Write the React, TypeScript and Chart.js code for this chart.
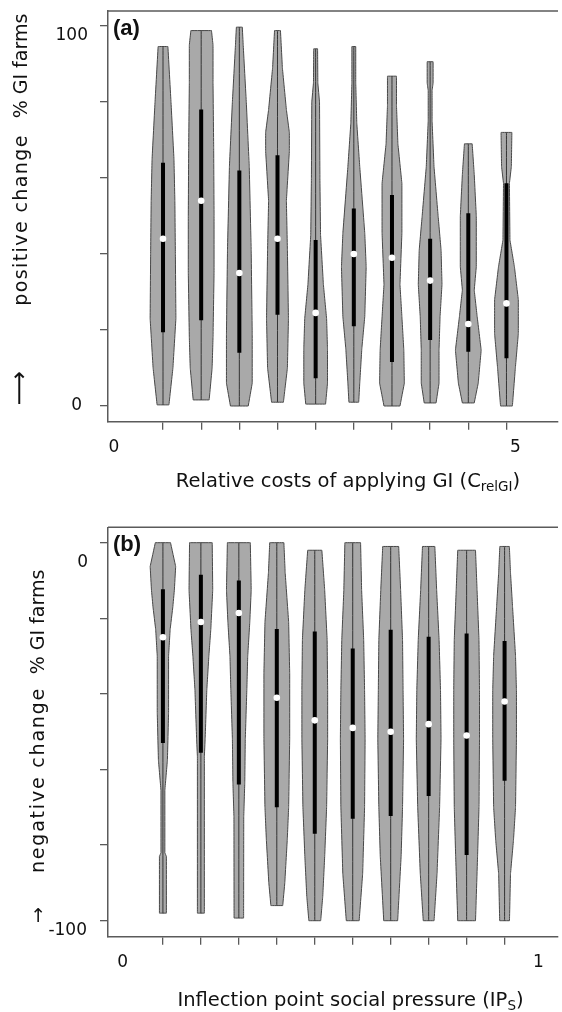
import React, { useEffect, useRef } from 'react';
import { Chart, registerables } from 'chart.js';

Chart.register(...registerables);

const FONT = '"DejaVu Sans", Verdana, sans-serif';
const BOLD_FONT = '"Liberation Sans", Arial, sans-serif';
const AXIS_COLOR = '#5a5a5a';
const TEXT_COLOR = '#111111';
const VIOLIN_FILL = '#a9a9a9';
const VIOLIN_EDGE = '#474747';

// ---------- Panel (a): relative costs of applying GI ----------
const aCategories = [0.5, 1, 1.5, 2, 2.5, 3, 3.5, 4, 4.5, 5];
const aMedians = [44, 54, 35, 44, 24.5, 40, 39, 33, 21.6, 27];
const aQ1 = [19.4, 22.6, 14, 24, 7.3, 21, 11.6, 17.4, 14.3, 12.6];
const aQ3 = [64, 78, 62, 66, 43.7, 52, 55.5, 44, 50.7, 58.6];
// [value, relative density] from bottom to top of each violin
const aDensity: number[][][] = [
  [[0.3, 0.46], [10, 0.77], [23, 1.0], [40, 0.96], [54, 0.92], [65, 0.85], [80, 0.62], [94.6, 0.38]],
  [[1.6, 0.62], [10, 0.85], [18, 0.92], [35, 1.0], [50, 1.0], [68, 0.97], [85, 0.92], [95, 0.92], [98.8, 0.8]],
  [[0, 0.69], [6, 1.0], [19, 1.0], [41, 0.92], [63, 0.77], [80, 0.54], [95, 0.3], [99.7, 0.23]],
  [[1, 0.46], [10, 0.77], [23, 0.85], [41, 0.77], [54, 0.69], [67, 0.92], [72, 0.92], [78, 0.69], [89, 0.38], [98.8, 0.23]],
  [[0.5, 0.77], [6, 0.92], [15, 0.92], [23, 0.85], [32, 0.6], [45, 0.38], [60, 0.33], [80, 0.3], [85, 0.17], [94, 0.15]],
  [[1, 0.38], [6, 0.46], [15, 0.62], [23.5, 0.85], [36.6, 0.96], [45.5, 0.85], [63, 0.46], [74.5, 0.23], [85, 0.15], [94.6, 0.15]],
  [[0, 0.62], [6, 0.96], [14.7, 0.92], [23.5, 0.77], [32, 0.62], [45.5, 0.77], [58.6, 0.77], [69, 0.46], [79, 0.35], [86.8, 0.35]],
  [[0.8, 0.46], [6, 0.69], [14.7, 0.69], [23.5, 0.77], [32, 0.92], [41, 0.85], [50, 0.62], [63, 0.3], [75, 0.15], [83, 0.15], [85, 0.23], [90.6, 0.23]],
  [[0.8, 0.46], [6, 0.77], [14.7, 1.0], [23.5, 0.69], [30.5, 0.46], [36.6, 0.62], [50, 0.62], [61, 0.46], [69, 0.3]],
  [[0, 0.46], [10, 0.69], [19, 0.92], [28, 0.92], [36.6, 0.62], [43.7, 0.27], [58.6, 0.23], [63, 0.38], [72, 0.42]],
];
const aYTicks = [0, 20, 40, 60, 80, 100];
const aYLabelValues = [0, 100];
const aYLabels = ['0', '100'];
const aXLabelValues = [0, 5];
const aXLabels = ['0', '5'];

// ---------- Panel (b): inflection point social pressure ----------
const bCategories = [0.1, 0.2, 0.3, 0.4, 0.5, 0.6, 0.7, 0.8, 0.9, 1.0];
const bMedians = [-25, -21, -18.6, -41, -47, -49, -50, -48, -51, -42];
const bQ1 = [-53, -55.6, -64, -70, -77, -73, -72.3, -67, -82.6, -63];
const bQ3 = [-12.3, -8.5, -10, -22.8, -23.5, -28, -23, -24.9, -24, -26];
const bDensity: number[][][] = [
  [[-98, 0.27], [-83, 0.27], [-82, 0.15], [-65.5, 0.15], [-57.5, 0.35], [-45, 0.44], [-30, 0.44], [-23, 0.56], [-17, 0.77], [-12.5, 0.89], [-6.3, 0.99], [0, 0.59]],
  [[-98, 0.27], [-56.6, 0.27], [-52, 0.33], [-39, 0.46], [-30, 0.62], [-23, 0.77], [-12.5, 0.92], [0, 0.88]],
  [[-99.3, 0.37], [-72.5, 0.38], [-63.6, 0.46], [-52, 0.5], [-39, 0.62], [-30, 0.69], [-21, 0.85], [-12.5, 0.96], [0, 0.89]],
  [[-96, 0.46], [-90, 0.62], [-78.7, 0.81], [-70, 0.92], [-52, 1.0], [-34.5, 1.0], [-21, 0.92], [-8, 0.65], [0, 0.55]],
  [[-100, 0.46], [-93.6, 0.62], [-83, 0.77], [-70, 0.92], [-52, 1.0], [-39, 1.0], [-25.7, 0.96], [-12.5, 0.77], [-2, 0.55]],
  [[-100, 0.5], [-87.6, 0.77], [-70, 0.92], [-52, 0.96], [-39, 0.92], [-25.7, 0.85], [-12.5, 0.69], [0, 0.61]],
  [[-100, 0.54], [-83, 0.81], [-70, 0.92], [-52, 1.0], [-39, 0.96], [-25.7, 0.92], [-12.5, 0.77], [-1, 0.62]],
  [[-100, 0.42], [-87.6, 0.65], [-70, 0.85], [-52, 0.96], [-39, 0.92], [-25.7, 0.81], [-12.5, 0.62], [-1, 0.48]],
  [[-100, 0.69], [-83, 0.85], [-70, 0.96], [-52, 1.0], [-39, 1.0], [-25.7, 0.96], [-12.5, 0.81], [-2, 0.69]],
  [[-100, 0.38], [-87.6, 0.46], [-78.7, 0.69], [-70, 0.85], [-52, 0.92], [-39, 0.92], [-30, 0.85], [-17, 0.62], [-8, 0.46], [-1, 0.37]],
];
const bYTicks = [0, -20, -40, -60, -80, -100];
const bYLabelValues = [0, -100];
const bYLabels = ['0', '-100'];
const bXLabelValues = [0, 1];
const bXLabels = ['0', '1'];

type Panel = {
  height: number;
  padTop: number;
  axisH: number;
  xMin: number; xMax: number; yMin: number; yMax: number;
  categories: number[];
  density: number[][][];
  medians: number[]; q1: number[]; q3: number[];
  halfWidth: number;
  yTicks: number[];
  yLabelValues: number[]; yLabels: string[]; yLabelRight: number[]; yLabelDy: number[];
  xLabelValues: number[]; xLabels: string[]; xLabelDx: number[];
  panelLabel: string;
  xTitle: string; xTitleSub: string; xTitleCenter: number; xTitleBaseline: number;
  yTitleBaseline: number;
  yTitleParts: { text: string; center: number; size: number; spacing: number }[];
};

const panelA: Panel = {
  height: 510, padTop: 11, axisH: 88.3,
  xMin: -0.2208, xMax: 5.6753, yMin: -4.13, yMax: 103.95,
  categories: aCategories, density: aDensity, medians: aMedians, q1: aQ1, q3: aQ3,
  halfWidth: 0.1688,
  yTicks: aYTicks,
  yLabelValues: aYLabelValues, yLabels: aYLabels, yLabelRight: [82, 88], yLabelDy: [0, 10],
  xLabelValues: aXLabelValues, xLabels: aXLabels, xLabelDx: [-11, 9],
  panelLabel: '(a)',
  xTitle: 'Relative costs of applying GI (C', xTitleSub: 'relGI', xTitleCenter: 348, xTitleBaseline: 487,
  yTitleBaseline: 27,
  yTitleParts: [
    { text: '% GI farms', center: 66, size: 19, spacing: 0 },
    { text: 'positive change', center: 220, size: 19, spacing: 1.4 },
    { text: '\u27F6', center: 388, size: 24, spacing: 0 },
  ],
};

const panelB: Panel = {
  height: 502, padTop: 17.3, axisH: 75.3,
  xMin: -0.04465, xMax: 1.1407, yMin: -104.23, yMax: 4.07,
  categories: bCategories, density: bDensity, medians: bMedians, q1: bQ1, q3: bQ3,
  halfWidth: 0.03394,
  yTicks: bYTicks,
  yLabelValues: bYLabelValues, yLabels: bYLabels, yLabelRight: [88, 87], yLabelDy: [20, 10],
  xLabelValues: bXLabelValues, xLabels: bXLabels, xLabelDx: [-2.3, 33.7],
  panelLabel: '(b)',
  xTitle: 'Inflection point social pressure (IP', xTitleSub: 'S', xTitleCenter: 350.5, xTitleBaseline: 496,
  yTitleBaseline: 44,
  yTitleParts: [
    { text: '% GI farms', center: 112, size: 19, spacing: 0 },
    { text: 'negative change', center: 270, size: 19, spacing: 1.8 },
    { text: '\u2192', center: 405, size: 19, spacing: 0 },
  ],
};

function buildDatasets(p: Panel) {
  const ds: any[] = [];
  p.categories.forEach((c, i) => {
    const prof = p.density[i];
    const left = prof.map(([y, d]) => ({ x: c - d * p.halfWidth, y }));
    const right = prof.slice().reverse().map(([y, d]) => ({ x: c + d * p.halfWidth, y }));
    ds.push({
      data: [...left, ...right, left[0]],
      showLine: true,
      fill: 'shape',
      backgroundColor: VIOLIN_FILL,
      borderColor: VIOLIN_EDGE,
      borderWidth: 1,
      pointRadius: 0,
      tension: 0.0001,
      order: 3,
    });
    ds.push({
      data: [{ x: c, y: prof[0][0] }, { x: c, y: prof[prof.length - 1][0] }],
      showLine: true,
      borderColor: '#333333',
      borderWidth: 1,
      pointRadius: 0,
      tension: 0.0001,
      order: 2,
    });
    ds.push({
      data: [{ x: c, y: p.q1[i] }, { x: c, y: p.q3[i] }],
      showLine: true,
      borderColor: '#000000',
      borderWidth: 4,
      borderCapStyle: 'butt',
      pointRadius: 0,
      tension: 0.0001,
      order: 1,
    });
  });
  ds.push({
    data: p.categories.map((c, i) => ({ x: c, y: p.medians[i] })),
    showLine: false,
    pointRadius: 3.3,
    pointBackgroundColor: '#ffffff',
    pointBorderWidth: 0,
    order: 0,
  });
  return ds;
}

function textPlugin(p: Panel) {
  return {
    id: 'panelText',
    afterDraw(chart: any) {
      const { ctx, chartArea: a, scales } = chart;
      const xs = scales.x;
      const ys = scales.y;
      ctx.save();
      ctx.strokeStyle = AXIS_COLOR;
      ctx.lineWidth = 1.5;
      ctx.beginPath();
      ctx.moveTo(a.left, a.top);
      ctx.lineTo(a.right, a.top);
      ctx.stroke();

      ctx.fillStyle = TEXT_COLOR;
      ctx.font = `bold 22px ${BOLD_FONT}`;
      ctx.textAlign = 'left';
      ctx.textBaseline = 'middle';
      ctx.fillText(p.panelLabel, a.left + 5, a.top + 18);

      ctx.font = `17px ${FONT}`;
      ctx.textAlign = 'right';
      p.yLabels.forEach((t, i) => {
        ctx.fillText(t, p.yLabelRight[i], ys.getPixelForValue(p.yLabelValues[i]) + p.yLabelDy[i]);
      });
      ctx.textAlign = 'center';
      p.xLabels.forEach((t, i) => {
        ctx.fillText(t, xs.getPixelForValue(p.xLabelValues[i]) + p.xLabelDx[i], a.bottom + 26.3);
      });

      const mainFont = `19.5px ${FONT}`;
      const subFont = `13.5px ${FONT}`;
      ctx.textBaseline = 'alphabetic';
      ctx.font = mainFont;
      const w1 = ctx.measureText(p.xTitle).width;
      const w3 = ctx.measureText(')').width;
      ctx.font = subFont;
      const w2 = ctx.measureText(p.xTitleSub).width;
      let x = p.xTitleCenter - (w1 + w2 + w3) / 2;
      ctx.textAlign = 'left';
      ctx.font = mainFont;
      ctx.fillText(p.xTitle, x, p.xTitleBaseline);
      x += w1;
      ctx.font = subFont;
      ctx.fillText(p.xTitleSub, x, p.xTitleBaseline + 4);
      x += w2;
      ctx.font = mainFont;
      ctx.fillText(')', x, p.xTitleBaseline);

      p.yTitleParts.forEach((part) => {
        ctx.save();
        ctx.translate(p.yTitleBaseline, part.center);
        ctx.rotate(-Math.PI / 2);
        ctx.font = `${part.size}px ${FONT}`;
        try { (ctx as any).letterSpacing = `${part.spacing}px`; } catch (e) { /* ignore */ }
        ctx.textAlign = 'center';
        ctx.textBaseline = 'alphabetic';
        ctx.fillText(part.text, 0, 0);
        ctx.restore();
      });
      ctx.restore();
    },
  };
}

function makeChart(canvas: HTMLCanvasElement, p: Panel) {
  return new Chart(canvas, {
    type: 'scatter',
    data: { datasets: buildDatasets(p) },
    options: {
      responsive: false,
      animation: false,
      events: [],
      layout: { padding: { top: p.padTop, left: 0, right: 0, bottom: 0 } },
      plugins: { legend: { display: false }, tooltip: { enabled: false } },
      scales: {
        x: {
          type: 'linear',
          position: 'bottom',
          min: p.xMin,
          max: p.xMax,
          afterBuildTicks: (s: any) => { s.ticks = p.categories.map((v) => ({ value: v })); },
          afterFit: (s: any) => { s.height = p.axisH; },
          grid: { drawOnChartArea: false, drawTicks: true, tickLength: 8, color: AXIS_COLOR, lineWidth: 1.3 },
          border: { display: true, color: AXIS_COLOR, width: 1.5 },
          ticks: { display: false },
        },
        y: {
          type: 'linear',
          position: 'left',
          min: p.yMin,
          max: p.yMax,
          afterBuildTicks: (s: any) => { s.ticks = p.yTicks.map((v) => ({ value: v })); },
          afterFit: (s: any) => { s.width = 108; },
          grid: { drawOnChartArea: false, drawTicks: true, tickLength: 8, color: AXIS_COLOR, lineWidth: 1.3 },
          border: { display: true, color: AXIS_COLOR, width: 1.5 },
          ticks: { display: false },
        },
      },
    } as any,
    plugins: [textPlugin(p)],
  });
}

export default function App() {
  const refA = useRef<HTMLCanvasElement>(null);
  const refB = useRef<HTMLCanvasElement>(null);

  useEffect(() => {
    const ca = makeChart(refA.current!, panelA);
    const cb = makeChart(refB.current!, panelB);
    return () => {
      ca.destroy();
      cb.destroy();
    };
  }, []);

  return (
    <div style={{ position: 'absolute', left: 0, top: 0, width: 562, height: 1012, background: '#ffffff', overflow: 'hidden' }}>
      <canvas ref={refA} width={562} height={panelA.height} style={{ display: 'block', width: 562, height: panelA.height }} />
      <canvas ref={refB} width={562} height={panelB.height} style={{ display: 'block', width: 562, height: panelB.height }} />
    </div>
  );
}
